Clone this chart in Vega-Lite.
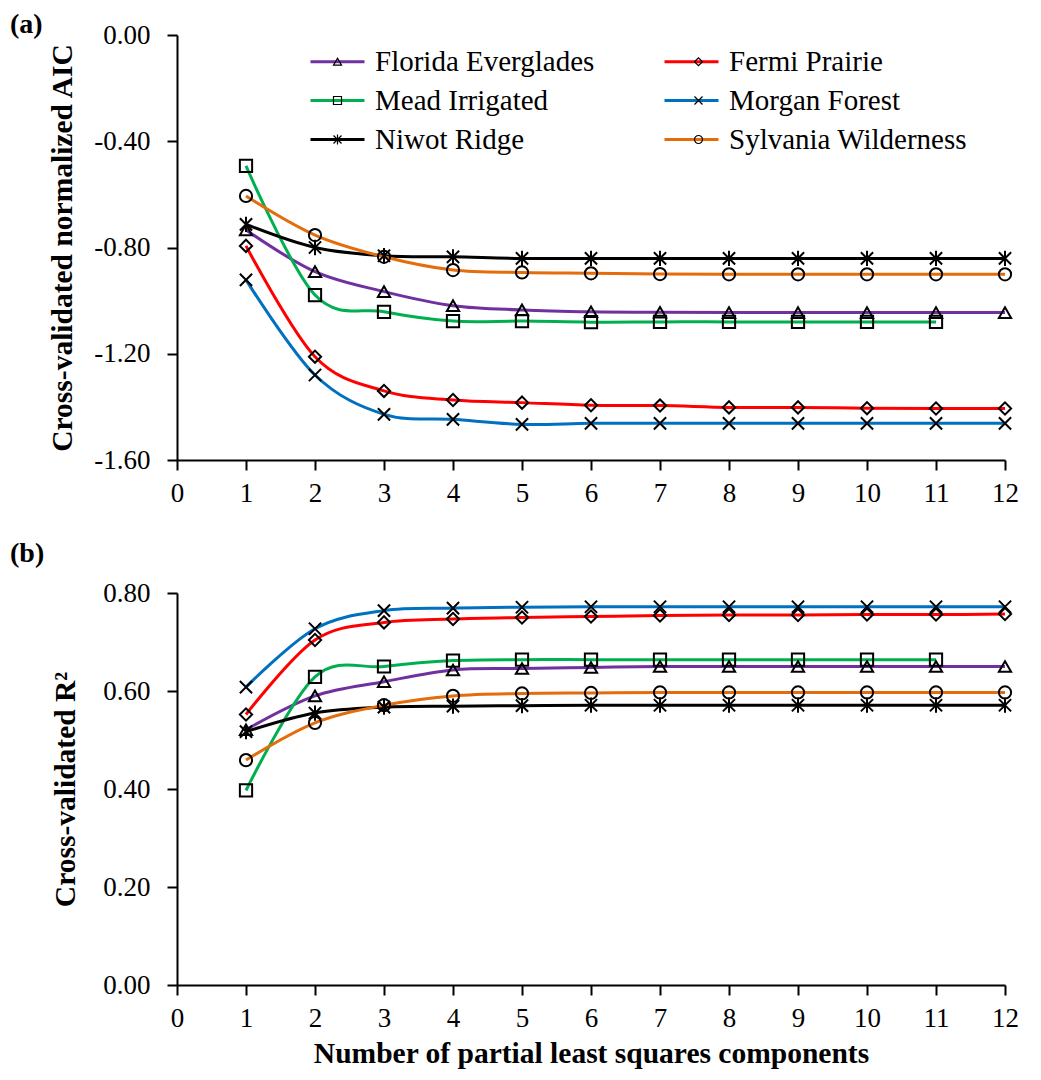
{
  "$schema": "https://vega.github.io/schema/vega-lite/v6.json",
  "background": "white",
  "padding": {"left": 10, "top": 11, "right": 5, "bottom": 5},
  "config": {
    "view": {"stroke": null},
    "font": "Liberation Serif",
    "axis": {
      "labelFont": "Liberation Serif", "labelFontSize": 27, "labelColor": "black",
      "titleFont": "Liberation Serif", "titleFontSize": 29.5, "titleFontWeight": "bold", "titleColor": "black",
      "domainColor": "black", "domainWidth": 2, "tickColor": "black", "tickWidth": 2, "tickSize": 10,
      "grid": false, "labelFlush": false, "labelOverlap": false
    },
    "title": {"font": "Liberation Serif", "fontSize": 28, "fontWeight": "bold", "color": "black"}
  },
  "datasets": {
    "aic": [
      {"site": "Florida Everglades", "k": 1, "v": -0.734}, {"site": "Florida Everglades", "k": 2, "v": -0.891}, {"site": "Florida Everglades", "k": 3, "v": -0.966}, {"site": "Florida Everglades", "k": 4, "v": -1.019}, {"site": "Florida Everglades", "k": 5, "v": -1.035}, {"site": "Florida Everglades", "k": 6, "v": -1.042}, {"site": "Florida Everglades", "k": 7, "v": -1.044}, {"site": "Florida Everglades", "k": 8, "v": -1.045}, {"site": "Florida Everglades", "k": 9, "v": -1.045}, {"site": "Florida Everglades", "k": 10, "v": -1.045}, {"site": "Florida Everglades", "k": 11, "v": -1.045}, {"site": "Florida Everglades", "k": 12, "v": -1.045},
      {"site": "Fermi Prairie", "k": 1, "v": -0.794}, {"site": "Fermi Prairie", "k": 2, "v": -1.211}, {"site": "Fermi Prairie", "k": 3, "v": -1.34}, {"site": "Fermi Prairie", "k": 4, "v": -1.374}, {"site": "Fermi Prairie", "k": 5, "v": -1.384}, {"site": "Fermi Prairie", "k": 6, "v": -1.394}, {"site": "Fermi Prairie", "k": 7, "v": -1.395}, {"site": "Fermi Prairie", "k": 8, "v": -1.402}, {"site": "Fermi Prairie", "k": 9, "v": -1.402}, {"site": "Fermi Prairie", "k": 10, "v": -1.405}, {"site": "Fermi Prairie", "k": 11, "v": -1.406}, {"site": "Fermi Prairie", "k": 12, "v": -1.406},
      {"site": "Mead Irrigated", "k": 1, "v": -0.493}, {"site": "Mead Irrigated", "k": 2, "v": -0.979}, {"site": "Mead Irrigated", "k": 3, "v": -1.042}, {"site": "Mead Irrigated", "k": 4, "v": -1.077}, {"site": "Mead Irrigated", "k": 5, "v": -1.077}, {"site": "Mead Irrigated", "k": 6, "v": -1.081}, {"site": "Mead Irrigated", "k": 7, "v": -1.08}, {"site": "Mead Irrigated", "k": 8, "v": -1.08}, {"site": "Mead Irrigated", "k": 9, "v": -1.08}, {"site": "Mead Irrigated", "k": 10, "v": -1.08}, {"site": "Mead Irrigated", "k": 11, "v": -1.08},
      {"site": "Morgan Forest", "k": 1, "v": -0.922}, {"site": "Morgan Forest", "k": 2, "v": -1.28}, {"site": "Morgan Forest", "k": 3, "v": -1.428}, {"site": "Morgan Forest", "k": 4, "v": -1.447}, {"site": "Morgan Forest", "k": 5, "v": -1.466}, {"site": "Morgan Forest", "k": 6, "v": -1.462}, {"site": "Morgan Forest", "k": 7, "v": -1.462}, {"site": "Morgan Forest", "k": 8, "v": -1.462}, {"site": "Morgan Forest", "k": 9, "v": -1.462}, {"site": "Morgan Forest", "k": 10, "v": -1.462}, {"site": "Morgan Forest", "k": 11, "v": -1.462}, {"site": "Morgan Forest", "k": 12, "v": -1.462},
      {"site": "Niwot Ridge", "k": 1, "v": -0.713}, {"site": "Niwot Ridge", "k": 2, "v": -0.8}, {"site": "Niwot Ridge", "k": 3, "v": -0.831}, {"site": "Niwot Ridge", "k": 4, "v": -0.835}, {"site": "Niwot Ridge", "k": 5, "v": -0.841}, {"site": "Niwot Ridge", "k": 6, "v": -0.841}, {"site": "Niwot Ridge", "k": 7, "v": -0.841}, {"site": "Niwot Ridge", "k": 8, "v": -0.841}, {"site": "Niwot Ridge", "k": 9, "v": -0.841}, {"site": "Niwot Ridge", "k": 10, "v": -0.841}, {"site": "Niwot Ridge", "k": 11, "v": -0.841}, {"site": "Niwot Ridge", "k": 12, "v": -0.841},
      {"site": "Sylvania Wilderness", "k": 1, "v": -0.606}, {"site": "Sylvania Wilderness", "k": 2, "v": -0.753}, {"site": "Sylvania Wilderness", "k": 3, "v": -0.835}, {"site": "Sylvania Wilderness", "k": 4, "v": -0.885}, {"site": "Sylvania Wilderness", "k": 5, "v": -0.894}, {"site": "Sylvania Wilderness", "k": 6, "v": -0.897}, {"site": "Sylvania Wilderness", "k": 7, "v": -0.9}, {"site": "Sylvania Wilderness", "k": 8, "v": -0.901}, {"site": "Sylvania Wilderness", "k": 9, "v": -0.901}, {"site": "Sylvania Wilderness", "k": 10, "v": -0.901}, {"site": "Sylvania Wilderness", "k": 11, "v": -0.901}, {"site": "Sylvania Wilderness", "k": 12, "v": -0.901}
    ],
    "r2": [
      {"site": "Florida Everglades", "k": 1, "v": 0.521}, {"site": "Florida Everglades", "k": 2, "v": 0.59}, {"site": "Florida Everglades", "k": 3, "v": 0.619}, {"site": "Florida Everglades", "k": 4, "v": 0.643}, {"site": "Florida Everglades", "k": 5, "v": 0.646}, {"site": "Florida Everglades", "k": 6, "v": 0.648}, {"site": "Florida Everglades", "k": 7, "v": 0.65}, {"site": "Florida Everglades", "k": 8, "v": 0.65}, {"site": "Florida Everglades", "k": 9, "v": 0.65}, {"site": "Florida Everglades", "k": 10, "v": 0.65}, {"site": "Florida Everglades", "k": 11, "v": 0.65}, {"site": "Florida Everglades", "k": 12, "v": 0.65},
      {"site": "Fermi Prairie", "k": 1, "v": 0.552}, {"site": "Fermi Prairie", "k": 2, "v": 0.704}, {"site": "Fermi Prairie", "k": 3, "v": 0.74}, {"site": "Fermi Prairie", "k": 4, "v": 0.747}, {"site": "Fermi Prairie", "k": 5, "v": 0.75}, {"site": "Fermi Prairie", "k": 6, "v": 0.752}, {"site": "Fermi Prairie", "k": 7, "v": 0.754}, {"site": "Fermi Prairie", "k": 8, "v": 0.755}, {"site": "Fermi Prairie", "k": 9, "v": 0.755}, {"site": "Fermi Prairie", "k": 10, "v": 0.756}, {"site": "Fermi Prairie", "k": 11, "v": 0.756}, {"site": "Fermi Prairie", "k": 12, "v": 0.757},
      {"site": "Mead Irrigated", "k": 1, "v": 0.397}, {"site": "Mead Irrigated", "k": 2, "v": 0.629}, {"site": "Mead Irrigated", "k": 3, "v": 0.65}, {"site": "Mead Irrigated", "k": 4, "v": 0.662}, {"site": "Mead Irrigated", "k": 5, "v": 0.664}, {"site": "Mead Irrigated", "k": 6, "v": 0.664}, {"site": "Mead Irrigated", "k": 7, "v": 0.664}, {"site": "Mead Irrigated", "k": 8, "v": 0.664}, {"site": "Mead Irrigated", "k": 9, "v": 0.664}, {"site": "Mead Irrigated", "k": 10, "v": 0.664}, {"site": "Mead Irrigated", "k": 11, "v": 0.664},
      {"site": "Morgan Forest", "k": 1, "v": 0.608}, {"site": "Morgan Forest", "k": 2, "v": 0.727}, {"site": "Morgan Forest", "k": 3, "v": 0.764}, {"site": "Morgan Forest", "k": 4, "v": 0.769}, {"site": "Morgan Forest", "k": 5, "v": 0.771}, {"site": "Morgan Forest", "k": 6, "v": 0.772}, {"site": "Morgan Forest", "k": 7, "v": 0.772}, {"site": "Morgan Forest", "k": 8, "v": 0.772}, {"site": "Morgan Forest", "k": 9, "v": 0.772}, {"site": "Morgan Forest", "k": 10, "v": 0.772}, {"site": "Morgan Forest", "k": 11, "v": 0.772}, {"site": "Morgan Forest", "k": 12, "v": 0.772},
      {"site": "Niwot Ridge", "k": 1, "v": 0.517}, {"site": "Niwot Ridge", "k": 2, "v": 0.555}, {"site": "Niwot Ridge", "k": 3, "v": 0.567}, {"site": "Niwot Ridge", "k": 4, "v": 0.569}, {"site": "Niwot Ridge", "k": 5, "v": 0.57}, {"site": "Niwot Ridge", "k": 6, "v": 0.571}, {"site": "Niwot Ridge", "k": 7, "v": 0.571}, {"site": "Niwot Ridge", "k": 8, "v": 0.571}, {"site": "Niwot Ridge", "k": 9, "v": 0.571}, {"site": "Niwot Ridge", "k": 10, "v": 0.571}, {"site": "Niwot Ridge", "k": 11, "v": 0.571}, {"site": "Niwot Ridge", "k": 12, "v": 0.571},
      {"site": "Sylvania Wilderness", "k": 1, "v": 0.459}, {"site": "Sylvania Wilderness", "k": 2, "v": 0.535}, {"site": "Sylvania Wilderness", "k": 3, "v": 0.571}, {"site": "Sylvania Wilderness", "k": 4, "v": 0.59}, {"site": "Sylvania Wilderness", "k": 5, "v": 0.595}, {"site": "Sylvania Wilderness", "k": 6, "v": 0.596}, {"site": "Sylvania Wilderness", "k": 7, "v": 0.597}, {"site": "Sylvania Wilderness", "k": 8, "v": 0.597}, {"site": "Sylvania Wilderness", "k": 9, "v": 0.597}, {"site": "Sylvania Wilderness", "k": 10, "v": 0.597}, {"site": "Sylvania Wilderness", "k": 11, "v": 0.597}, {"site": "Sylvania Wilderness", "k": 12, "v": 0.597}
    ]
  },
  "resolve": {
    "scale": {"x": "independent", "y": "independent"},
    "legend": {"color": "independent", "shape": "independent"}
  },
  "spacing": 34,
  "vconcat": [
    {
      "width": 828,
      "height": 425,
      "title": {"text": "(a)", "anchor": "start", "frame": "group", "dx": -167, "dy": 18, "offset": 0},
      "data": {"name": "aic"},
      "layer": [
        {
          "mark": {"type": "line", "interpolate": "cardinal", "strokeWidth": 3},
          "encoding": {
            "x": {"field": "k", "type": "quantitative", "scale": {"domain": [0, 12], "nice": false}, "axis": {"values": [0,1,2,3,4,5,6,7,8,9,10,11,12], "format": "d", "title": null, "labelPadding": 10}},
            "y": {"field": "v", "type": "quantitative", "scale": {"domain": [-1.6, 0], "nice": false, "zero": false}, "axis": {"values": [-1.6, -1.2, -0.8, -0.4, 0], "format": ".2f", "labelExpr": "replace(datum.label, '−', '-')", "title": "Cross-validated normalized AIC", "labelPadding": 17, "titlePadding": 16}},
            "color": {
              "field": "site", "type": "nominal",
              "scale": {"domain": ["Florida Everglades", "Fermi Prairie", "Mead Irrigated", "Morgan Forest", "Niwot Ridge", "Sylvania Wilderness"], "range": ["#7030A0", "#FF0000", "#00B050", "#0070C0", "#000000", "#E46C0A"]},
              "legend": {"orient": "none", "direction": "horizontal", "legendX": 133, "legendY": 12, "columns": 2, "title": null, "padding": 0, "symbolType": "M-1.4,0L4,0", "symbolSize": 400, "symbolStrokeWidth": 3, "labelFont": "Liberation Serif", "labelFontSize": 29, "labelColor": "black", "labelLimit": 0, "labelOffset": 36, "columnPadding": 63, "rowPadding": 9}
            }
          }
        },
        {
          "mark": {"type": "point", "filled": false, "color": "black", "strokeWidth": 2, "size": 150, "opacity": 1},
          "encoding": {
            "x": {"field": "k", "type": "quantitative"},
            "y": {"field": "v", "type": "quantitative"},
            "shape": {
              "field": "site", "type": "nominal",
              "sort": ["Florida Everglades", "Fermi Prairie", "Mead Irrigated", "Morgan Forest", "Niwot Ridge", "Sylvania Wilderness"],
              "scale": {"range": ["triangle-up", "diamond", "square", "M-1,-1L1,1M-1,1L1,-1", "M-1,-1L1,1M-1,1L1,-1M0,-1.25L0,1.25", "circle"]},
              "legend": {"orient": "none", "direction": "horizontal", "legendX": 133, "legendY": 12, "columns": 2, "title": null, "padding": 0, "symbolSize": 64, "symbolStrokeWidth": 1.2, "symbolStrokeColor": "black", "symbolFillColor": "white", "symbolOffset": 13, "labelFont": "Liberation Serif", "labelFontSize": 29, "labelOpacity": 0, "labelLimit": 0, "labelOffset": 36, "columnPadding": 63, "rowPadding": 9}
            }
          }
        }
      ]
    },
    {
      "width": 828,
      "height": 392,
      "title": {"text": "(b)", "anchor": "start", "frame": "group", "dx": -167, "offset": 11},
      "data": {"name": "r2"},
      "layer": [
        {
          "mark": {"type": "line", "interpolate": "cardinal", "strokeWidth": 3},
          "encoding": {
            "x": {"field": "k", "type": "quantitative", "scale": {"domain": [0, 12], "nice": false}, "axis": {"values": [0,1,2,3,4,5,6,7,8,9,10,11,12], "format": "d", "title": "Number of partial least squares components", "labelPadding": 10, "titlePadding": 8}},
            "y": {"field": "v", "type": "quantitative", "scale": {"domain": [0, 0.8], "nice": false}, "axis": {"values": [0, 0.2, 0.4, 0.6, 0.8], "format": ".2f", "title": "Cross-validated R²", "labelPadding": 17, "titlePadding": 22}},
            "color": {
              "field": "site", "type": "nominal",
              "scale": {"domain": ["Florida Everglades", "Fermi Prairie", "Mead Irrigated", "Morgan Forest", "Niwot Ridge", "Sylvania Wilderness"], "range": ["#7030A0", "#FF0000", "#00B050", "#0070C0", "#000000", "#E46C0A"]},
              "legend": null
            }
          }
        },
        {
          "mark": {"type": "point", "filled": false, "color": "black", "strokeWidth": 2, "size": 150, "opacity": 1},
          "encoding": {
            "x": {"field": "k", "type": "quantitative"},
            "y": {"field": "v", "type": "quantitative"},
            "shape": {
              "field": "site", "type": "nominal",
              "sort": ["Florida Everglades", "Fermi Prairie", "Mead Irrigated", "Morgan Forest", "Niwot Ridge", "Sylvania Wilderness"],
              "scale": {"range": ["triangle-up", "diamond", "square", "M-1,-1L1,1M-1,1L1,-1", "M-1,-1L1,1M-1,1L1,-1M0,-1.25L0,1.25", "circle"]},
              "legend": null
            }
          }
        }
      ]
    }
  ]
}
